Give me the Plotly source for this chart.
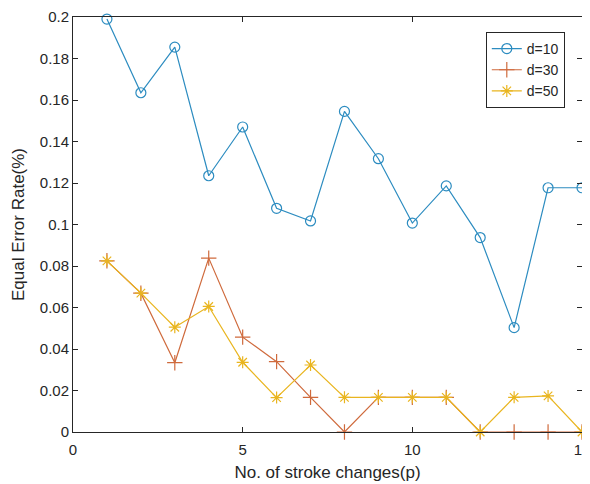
import plotly.graph_objects as go

x_vals = list(range(1, 16))
d10 = [0.199, 0.1635, 0.1855, 0.1235, 0.147, 0.1078, 0.1017, 0.1545, 0.1317, 0.1007, 0.1186, 0.0937, 0.0503, 0.1177, 0.1177]
d30 = [0.0825, 0.0669, 0.0334, 0.0838, 0.0457, 0.0339, 0.0167, 0.0, 0.0167, 0.0167, 0.0167, 0.0, 0.0, 0.0, 0.0]
d50 = [0.0825, 0.0669, 0.0505, 0.0605, 0.0336, 0.0166, 0.0323, 0.0167, 0.0167, 0.0167, 0.0167, 0.0, 0.0167, 0.0174, 0.0]
names = ["d=10", "d=30", "d=50"]
colors = ["#2c8cc0", "#cf6a3c", "#e9b51f"]

y_ticks = [0, 0.02, 0.04, 0.06, 0.08, 0.1, 0.12, 0.14, 0.16, 0.18, 0.2]
y_tick_labels = ["0", "0.02", "0.04", "0.06", "0.08", "0.1", "0.12", "0.14", "0.16", "0.18", "0.2"]
x_ticks = [0, 5, 10, 15]

FONT = "Liberation Sans, Arial, sans-serif"
INK = "#262626"

fig = go.Figure()
fig.add_trace(go.Scatter(x=x_vals, y=d10, name=names[0], mode="lines+markers",
                         line=dict(color=colors[0], width=1.2),
                         marker=dict(symbol="circle-open", size=10, color=colors[0], line=dict(width=1.2)),
                         cliponaxis=False))
fig.add_trace(go.Scatter(x=x_vals, y=d30, name=names[1], mode="lines+markers",
                         line=dict(color=colors[1], width=1.2),
                         marker=dict(symbol="cross-thin-open", size=11, color=colors[1], line=dict(width=1.2, color=colors[1])),
                         cliponaxis=False))
fig.add_trace(go.Scatter(x=x_vals, y=d50, name=names[2], mode="lines+markers",
                         line=dict(color=colors[2], width=1.2),
                         marker=dict(symbol="asterisk-open", size=10, color=colors[2], line=dict(width=1.2, color=colors[2])),
                         cliponaxis=False))

axis_common = dict(showline=True, linecolor=INK, linewidth=1, mirror="ticks",
                   ticks="inside", ticklen=5, tickcolor=INK, showgrid=False, zeroline=False,
                   automargin=False, ticklabeloverflow="allow",
                   tickfont=dict(family=FONT, size=15, color=INK))

fig.update_xaxes(range=[0, 15], tickvals=x_ticks, ticklabelstandoff=4,
                 title=dict(text="No. of stroke changes(p)", standoff=9,
                            font=dict(family=FONT, size=17, color=INK)),
                 **axis_common)
fig.update_yaxes(range=[0, 0.2], tickvals=y_ticks, ticktext=y_tick_labels,
                 title=dict(text="Equal Error Rate(%)", standoff=10,
                            font=dict(family=FONT, size=17, color=INK)),
                 **axis_common)

# The page body adds an 8px offset; the figure is placed so the plot area lands where the reference has it.
fig.update_layout(
    width=590, height=476,
    margin=dict(l=65, r=16, t=9, b=52, autoexpand=False),
    paper_bgcolor="white", plot_bgcolor="white",
    legend=dict(x=0.811, y=0.964, xanchor="left", yanchor="top",
                bgcolor="white", bordercolor=INK, borderwidth=1,
                font=dict(family=FONT, size=14, color=INK),
                tracegroupgap=0, itemwidth=30),
    showlegend=True,
)

fig.write_html("out.html")
